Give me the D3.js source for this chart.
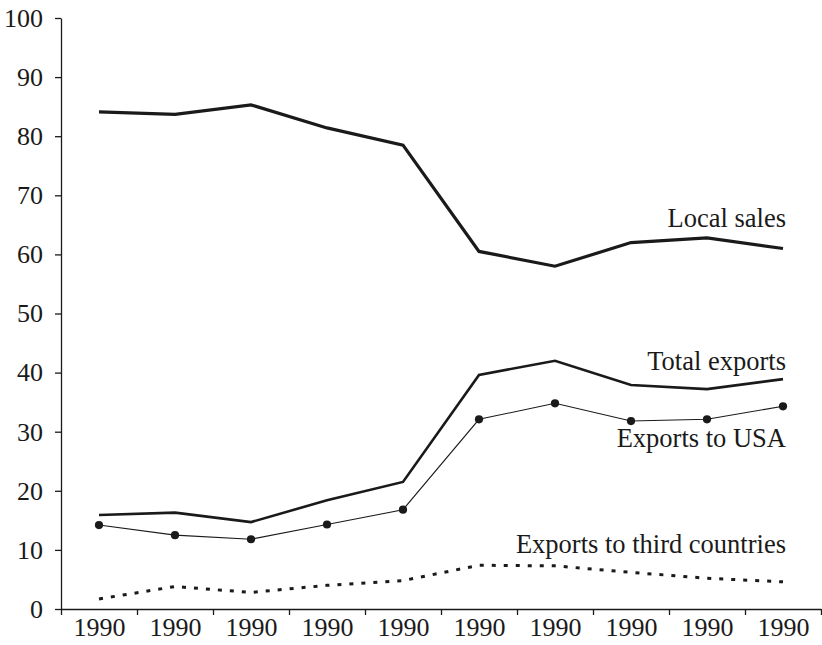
<!DOCTYPE html>
<html>
<head>
<meta charset="utf-8">
<script src="https://cdn.jsdelivr.net/npm/d3@7"></script>
<style>
  body { margin: 0; background: #fff; }
  svg { display: block; }
  .axis text { font-family: 'Liberation Serif', 'Times New Roman', serif; font-size: 26px; fill: #1a1a1a; }
  .axis path, .axis line { stroke: #1a1a1a; stroke-width: 1.3; }
  .label { font-family: 'Liberation Serif', 'Times New Roman', serif; font-size: 26.5px; fill: #1a1a1a; text-anchor: end; }
</style>
</head>
<body>
<svg class="chart" width="822" height="645"></svg>
<script>
const years = ['1990', '1990', '1990', '1990', '1990', '1990', '1990', '1990', '1990', '1990'];
const yTicks = [0, 10, 20, 30, 40, 50, 60, 70, 80, 90, 100];

const localSales = [84.1, 83.7, 85.3, 81.4, 78.5, 60.5, 58.0, 62.0, 62.8, 61.0];
const totalExports = [15.9, 16.3, 14.7, 18.4, 21.5, 39.6, 42.0, 37.9, 37.2, 38.9];
const exportsUSA = [14.2, 12.5, 11.8, 14.3, 16.8, 32.1, 34.8, 31.8, 32.1, 34.3];
const exportsThird = [1.7, 3.8, 2.8, 4.0, 4.8, 7.4, 7.3, 6.2, 5.2, 4.6];

const seriesNames = ['Local sales', 'Total exports', 'Exports to USA', 'Exports to third countries'];
const labelValues = [64.6, 40.4, 27.4, 9.5];

const drawChart = () => {
  const svg = d3.select('.chart');
  const left = 61;
  const right = 821;
  const top = 18;
  const bottom = 609;

  const xScale = d3.scaleLinear().domain([0, years.length]).range([left, right]);
  const yScale = d3.scaleLinear().domain([0, 100]).range([bottom, top]);

  const yAxis = d3.axisLeft(yScale).tickValues(yTicks).tickSize(6).tickPadding(12).tickSizeOuter(0);
  svg.append('g').classed('axis', true)
    .attr('transform', `translate(${left}, 0)`)
    .call(yAxis);

  const xTicks = d3.axisBottom(xScale).tickValues(d3.range(years.length + 1)).tickSize(6).tickFormat('').tickSizeOuter(0);
  svg.append('g').classed('axis', true)
    .attr('transform', `translate(0, ${bottom})`)
    .call(xTicks);

  const xLabels = d3.axisBottom(xScale)
    .tickValues(years.map((d, i) => i + 0.5))
    .tickSize(0)
    .tickPadding(9)
    .tickFormat((d) => years[Math.floor(d)]);
  const xLabelGroup = svg.append('g').classed('axis', true)
    .attr('transform', `translate(0, ${bottom})`)
    .call(xLabels);
  xLabelGroup.select('.domain').remove();

  const line = d3.line()
    .x((d, i) => xScale(i + 0.5))
    .y((d) => yScale(d));

  const styles = [
    { width: 3.2, dash: null },
    { width: 2.6, dash: null },
    { width: 1.1, dash: null },
    { width: 3, dash: '4,8' },
  ];

  [localSales, totalExports, exportsUSA, exportsThird].forEach((values, i) => {
    svg.append('path')
      .datum(values)
      .attr('d', line)
      .attr('fill', 'none')
      .attr('stroke', '#1a1a1a')
      .attr('stroke-width', styles[i].width)
      .attr('stroke-linejoin', 'miter')
      .attr('stroke-dasharray', styles[i].dash);
  });

  svg.selectAll('.usa-dot')
    .data(exportsUSA)
    .enter()
    .append('circle')
    .classed('usa-dot', true)
    .attr('cx', (d, i) => xScale(i + 0.5))
    .attr('cy', (d) => yScale(d))
    .attr('r', 4.1)
    .attr('fill', '#1a1a1a');

  svg.selectAll('.label')
    .data(seriesNames)
    .enter()
    .append('text')
    .classed('label', true)
    .attr('x', 786)
    .attr('y', (d, i) => yScale(labelValues[i]))
    .text((d) => d);
};

drawChart();
</script>
</body>
</html>
